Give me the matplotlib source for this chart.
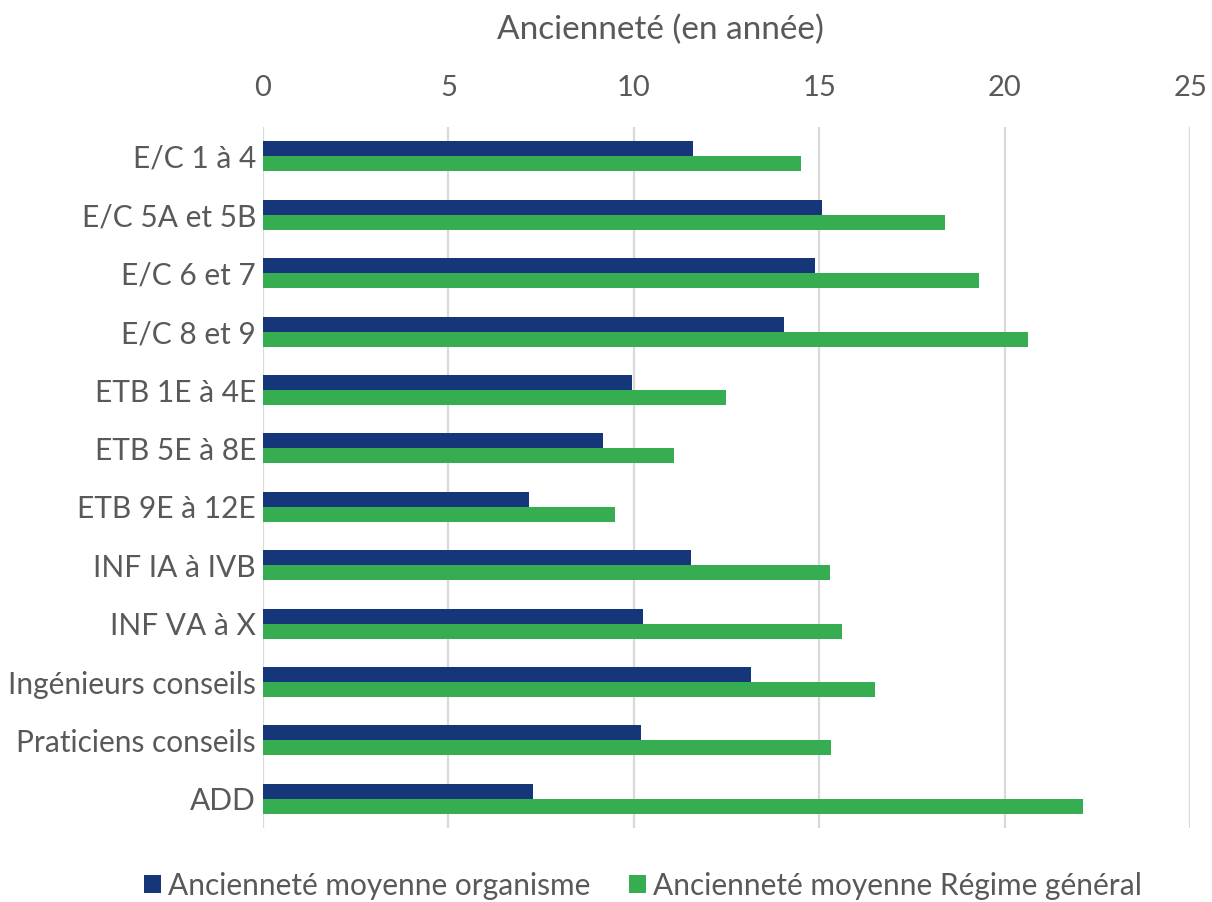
import numpy as np
import matplotlib.pyplot as plt

plt.rcParams['font.family'] = ['Lato', 'DejaVu Sans']

categories = ['E/C 1 à 4', 'E/C 5A et 5B', 'E/C 6 et 7', 'E/C 8 et 9',
              'ETB 1E à 4E', 'ETB 5E à 8E', 'ETB 9E à 12E', 'INF IA à IVB',
              'INF VA à X', 'Ingénieurs conseils', 'Praticiens conseils', 'ADD']
organisme = [11.6, 15.07, 14.88, 14.06, 9.96, 9.18, 7.17, 11.54, 10.25, 13.16, 10.19, 7.28]
regime = [14.5, 18.4, 19.3, 20.62, 12.49, 11.09, 9.49, 15.29, 15.6, 16.5, 15.31, 22.1]
series_names = ['Ancienneté moyenne organisme', 'Ancienneté moyenne Régime général']

dark = '#153679'
green = '#37ad52'
text_col = '#595959'

fig = plt.figure(figsize=(12.12, 9.02), dpi=100)
ax = fig.add_axes([0.217, 0.082, 0.765, 0.777])

y = np.arange(len(categories))
h = 0.257
ax.barh(y - h / 2, organisme, height=h, color=dark, label=series_names[0], zorder=3)
ax.barh(y + h / 2, regime, height=h, color=green, label=series_names[1], zorder=3)

ax.set_xlim(0, 25)
ax.set_ylim(len(categories) - 0.5, -0.5)
ax.set_xticks([0, 5, 10, 15, 20, 25])
ax.set_yticks(y)
ax.set_yticklabels(categories)
ax.xaxis.tick_top()
ax.tick_params(axis='x', length=0, pad=19, labelsize=21, labelcolor=text_col)
ax.tick_params(axis='y', length=0, pad=5, labelsize=21.5, labelcolor=text_col)
ax.grid(axis='x', color='#d9d9d9', linewidth=1.6, zorder=0)
for s in ax.spines.values():
    s.set_visible(False)

fig.text(660 / 1212, 1 - 30 / 902, 'Ancienneté (en année)', ha='center', va='center',
         fontsize=24, color=text_col)

leg = fig.legend(loc='center', bbox_to_anchor=(643 / 1212, 1 - 886 / 902), ncol=2,
                 frameon=False, fontsize=21.5, handlelength=0.55, handleheight=0.55,
                 handletextpad=0.25, columnspacing=1.3)
for t in leg.get_texts():
    t.set_color(text_col)

fig.savefig('out.png', dpi=100)
